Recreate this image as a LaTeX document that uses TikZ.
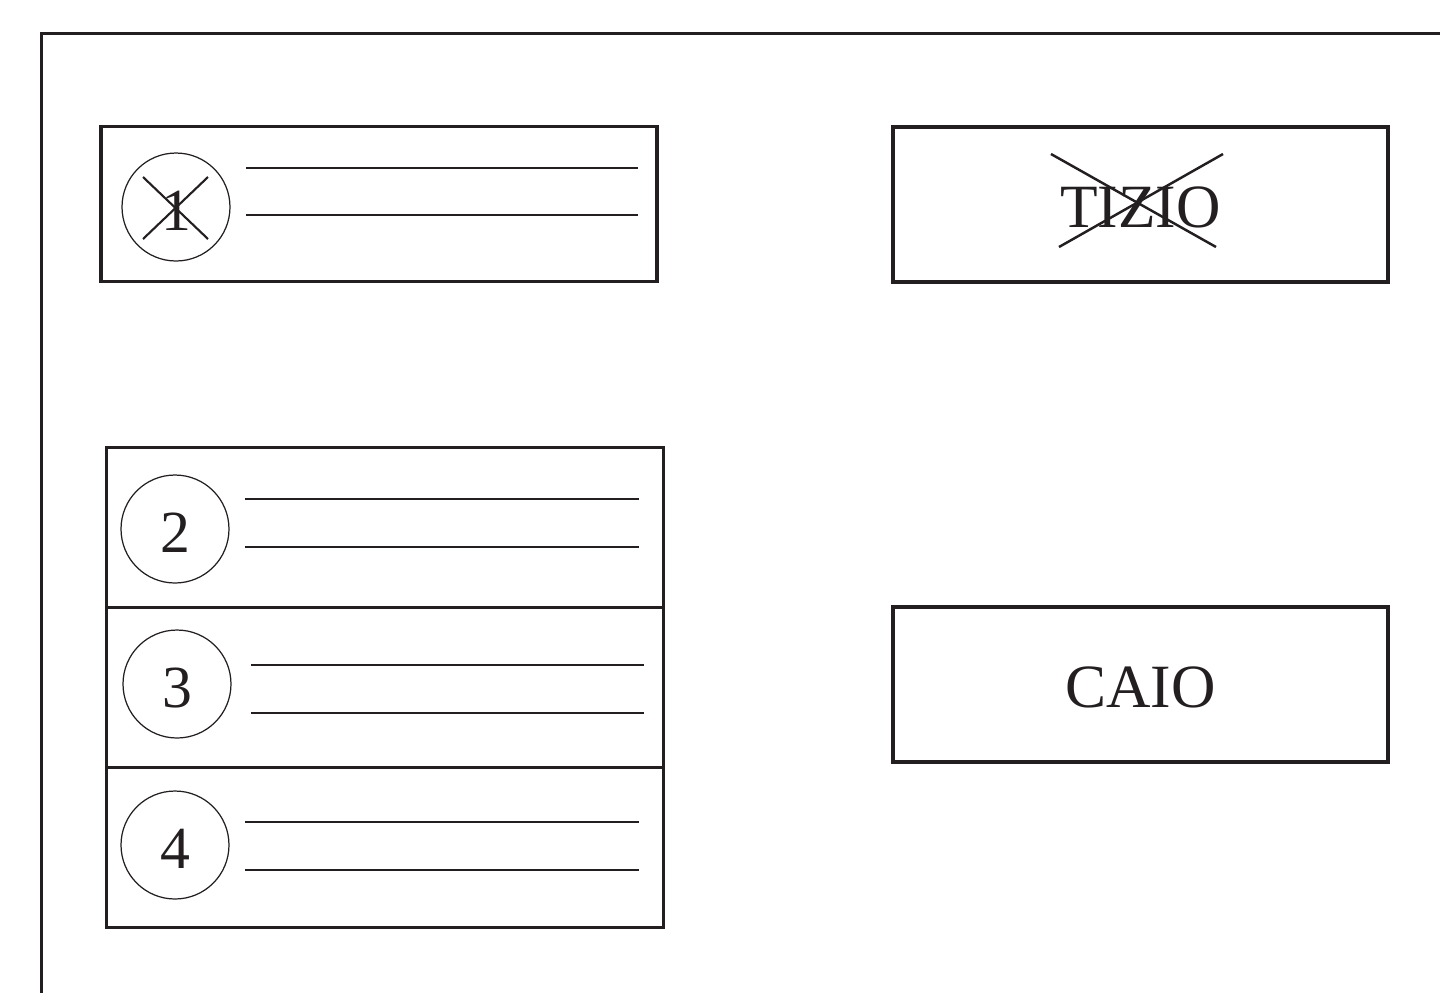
\documentclass[tikz,border=0pt]{standalone}
\usepackage{fontspec}
\setmainfont{Liberation Serif}
\usepackage{xcolor}
\usetikzlibrary{positioning}
\definecolor{ink}{HTML}{231F20}

\begin{document}
\begin{tikzpicture}[x=0.02cm, y=-0.02cm, color=ink]

% Define styles for the nodes
\tikzstyle{card} = [rectangle, draw=ink, line width=1.9pt, outer sep=0pt, minimum width=11.14cm, minimum height=3.2cm]
\tikzstyle{namebox} = [rectangle, draw=ink, line width=1.9pt, outer sep=0pt, minimum width=9.9cm, minimum height=3.1cm, text=ink, text height=26.5pt, text depth=0pt, font=\fontsize{35}{40}\selectfont]
\tikzstyle{badge} = [circle, draw=ink, line width=0.7pt, minimum size=2.16cm, inner sep=0pt, text=ink, text height=27pt, text depth=0pt, font=\fontsize{34}{38}\selectfont]
\tikzstyle{rule} = [draw=ink, line width=0.75pt]
\tikzstyle{strike} = [draw=ink, line width=1.2pt]

\useasboundingbox (0,0) rectangle (1440,992);
\clip (0,0) rectangle (1440,992);

% Frame
\draw[line width=2pt] (41.5,1010) |- (1460,33.5);

% Boxes
\node (slot1) [card, minimum width=11.12cm, minimum height=3.11cm] at (379,204) {};
\node (slot2) [card] at (385,527.5) {};
\node (slot3) [card, below=0pt of slot2] {};
\node (slot4) [card, below=0pt of slot3] {};
\node (tizio) [namebox] at (1140.5,204.5) {TIZIO};
\node (caio) [namebox, below=6.5cm of tizio] {CAIO};

% Numbers
\node (num1) [badge] at (176,207) {1};
\node (num2) [badge] at (175,529) {2};
\node (num3) [badge] at (177,684) {3};
\node (num4) [badge] at (175,845) {4};

% Writing lines
\draw[rule] (246,168) -- (638,168);
\draw[rule] (246,215) -- (638,215);
\draw[rule] (245,499) -- (639,499);
\draw[rule] (245,547) -- (639,547);
\draw[rule] (251,665) -- (644,665);
\draw[rule] (251,713) -- (644,713);
\draw[rule] (245,822) -- (639,822);
\draw[rule] (245,870) -- (639,870);

% Crossed out
\draw[strike] (143,177) -- (208,239);
\draw[strike] (208,177) -- (143,239);
\draw[strike, line width=1.4pt] (1051,154) -- (1216,247);
\draw[strike, line width=1.4pt] (1223,154) -- (1059,247);

\end{tikzpicture}
\end{document}
